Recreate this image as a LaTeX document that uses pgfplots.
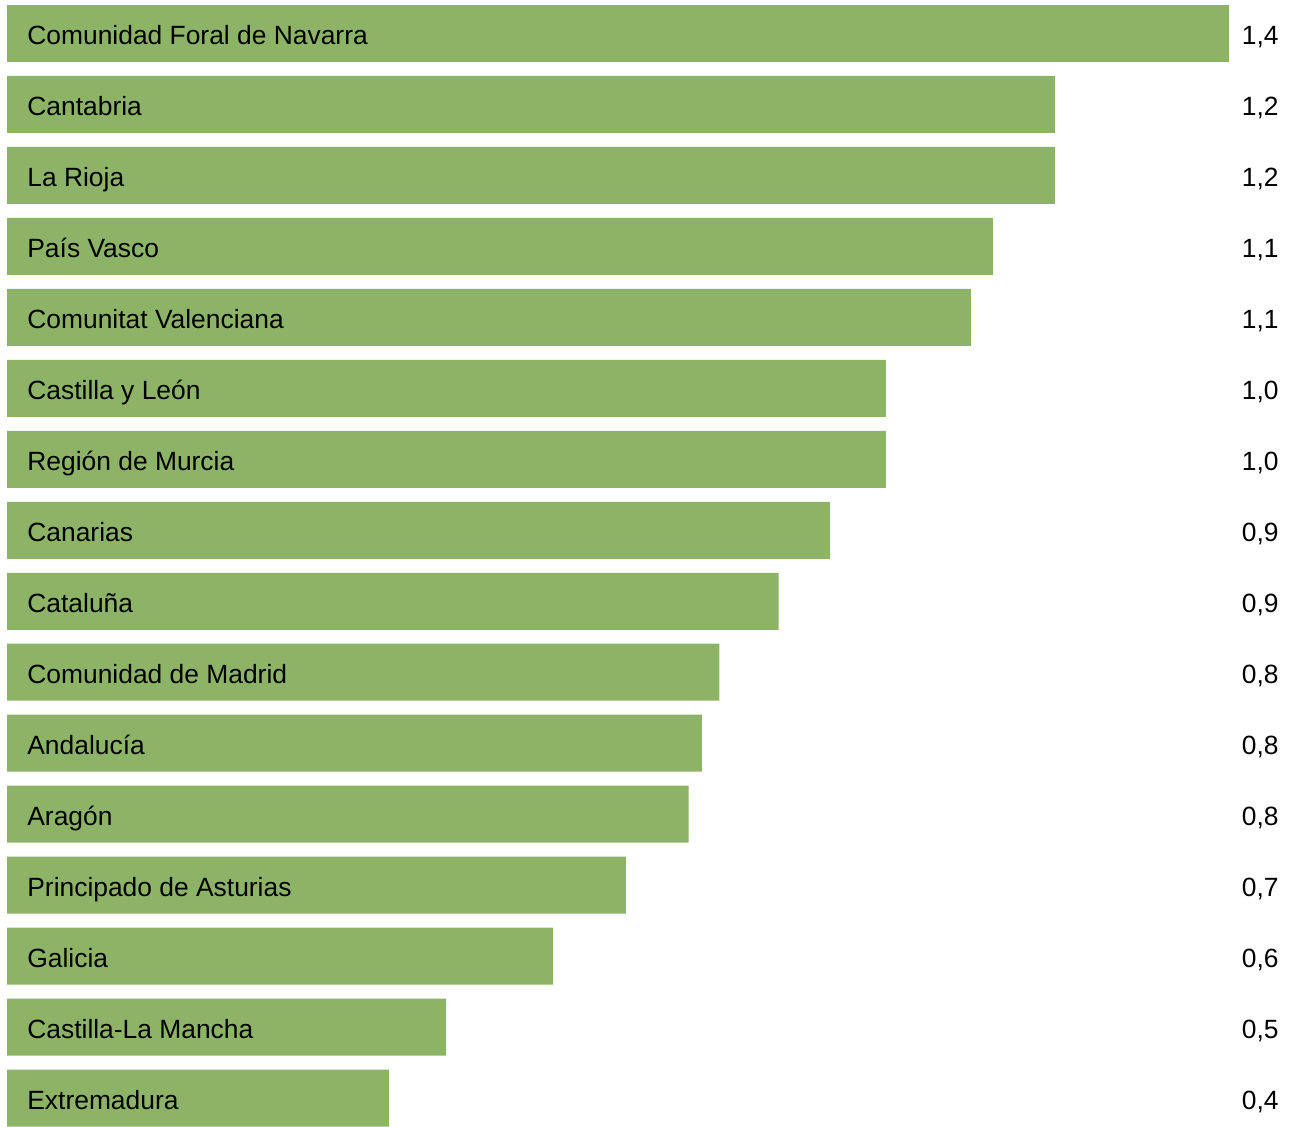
\documentclass[border=0pt]{standalone}
\usepackage{pgfplots}
\usepackage{pgfplotstable}
\pgfplotsset{compat=1.18}
\usepackage{fontspec}
\setmainfont{Liberation Sans}
\definecolor{barg}{RGB}{141,180,102}
\pgfplotstableread[col sep=semicolon]{
idx;val;label;vtext
0;1.4;Comunidad Foral de Navarra;1,4
1;1.2006;Cantabria;1,2
2;1.2006;La Rioja;1,2
3;1.1296;País Vasco;1,1
4;1.1044;Comunitat Valenciana;1,1
5;1.007;Castilla y León;1,0
6;1.007;Región de Murcia;1,0
7;0.943;Canarias;0,9
8;0.884;Cataluña;0,9
9;0.816;Comunidad de Madrid;0,8
10;0.796;Andalucía;0,8
11;0.781;Aragón;0,8
12;0.709;Principado de Asturias;0,7
13;0.6255;Galicia;0,6
14;0.503;Castilla-La Mancha;0,5
15;0.4376;Extremadura;0,4
}\datatab
\begin{document}
\begin{tikzpicture}
\begin{axis}[scale only axis, width=645.5pt, height=563pt,
  xmin=-0.00802, xmax=1.47103, ymin=-0.472, ymax=15.394,
  y dir=reverse, hide axis, clip=false]
\addplot[xbar, fill=barg, draw=none, bar width=0.803] table[x=val, y=idx] {\datatab};
\addplot[only marks, mark=none, point meta=explicit symbolic,
  nodes near coords,
  every node near coord/.append style={anchor=west, inner sep=0pt, yshift=-1.9pt, font=\fontsize{13.2}{15.8}\selectfont, text height=0.716em, text depth=0pt}]
  table[x expr=0.0229, y=idx, meta=label] {\datatab};
\addplot[only marks, mark=none, point meta=explicit symbolic,
  nodes near coords,
  every node near coord/.append style={anchor=east, inner sep=0pt, yshift=-1.9pt, font=\fontsize{13.2}{15.8}\selectfont, text height=0.716em, text depth=0pt}]
  table[x expr=1.4573, y=idx, meta=vtext] {\datatab};
\coordinate (BL) at (rel axis cs:0,0);
\coordinate (TR) at (rel axis cs:1,1);
\end{axis}
\pgfresetboundingbox
\path[use as bounding box] (BL) rectangle (TR);
\end{tikzpicture}
\end{document}
